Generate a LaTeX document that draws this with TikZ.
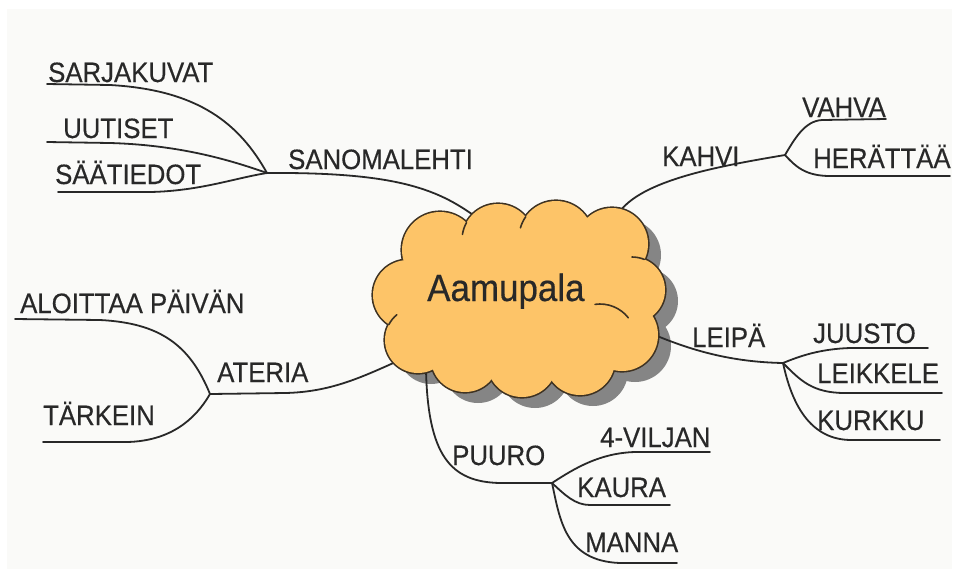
\documentclass[tikz,border=0pt]{standalone}
\usepackage{fontspec}
\setmainfont{Liberation Sans}[FakeStretch=0.92, FakeBold=0.4]

\pgfdeclarelayer{paper}
\pgfdeclarelayer{wires}
\pgfsetlayers{paper,wires,main}

\definecolor{cloudfill}{RGB}{253,196,104}
\definecolor{cloudline}{RGB}{62,50,34}
\definecolor{inkgray}{RGB}{40,40,40}
\definecolor{paperbg}{RGB}{250,250,248}

% puffs of the cloud: x/y/radius
\newcommand{\puffs}{440/250/38, 498/240/36, 556/238/37, 612/244/36, 632/290/33,
  622/335/36, 580/360/35, 522/362/35, 465/358/34, 418/340/33, 408/295/35}

\tikzset{
  word/.style={anchor=base west, inner sep=0pt, text=inkgray, font=\fontsize{28}{32}\selectfont},
  branch/.style={draw=inkgray, line width=1.8pt, line cap=round},
  stub/.style={draw=cloudline, line width=1.6pt, line cap=round},
}

\begin{document}
\begin{tikzpicture}[x=1pt, y=-1pt]
    \useasboundingbox (0,0) rectangle (957,574);
    \begin{pgfonlayer}{paper}
        \fill[paperbg] (7,9) rectangle (952,569);
        % shadow of the cloud
        \foreach \x/\y/\r in \puffs
            \fill[black!48] (\x+13,\y+11) circle[radius=\r];
        \fill[black!48] (438,266) rectangle (628,371);
    \end{pgfonlayer}

    % The cloud in the middle
    \foreach \x/\y/\r in \puffs
        \draw[cloudline, line width=3.2pt] (\x,\y) circle[radius=\r];
    \foreach \x/\y/\r in \puffs
        \fill[cloudfill] (\x,\y) circle[radius=\r];
    \fill[cloudfill] (425,255) rectangle (615,360);
    % little folds between the puffs
    \draw[stub] (498,240) ++(209:36) arc[start angle=209, end angle=189, radius=36];
    \draw[stub] (556,238) ++(215:37) arc[start angle=215, end angle=196, radius=37];
    \draw[stub] (632,290) ++(292:33) arc[start angle=292, end angle=270, radius=33];
    \draw[stub] (418,340) ++(208:33) arc[start angle=208, end angle=230, radius=33];
    \draw[stub] (600,340) ++(262:36) arc[start angle=262, end angle=322, radius=36];

    \node[word, font=\fontsize{38}{42}\selectfont] (aamu) at (427,301) {Aamupala};

    % Where the branches leave the cloud
    \coordinate (cloudS) at (480,220);
    \coordinate (cloudK) at (618,214);
    \coordinate (cloudA) at (400,360);
    \coordinate (cloudL) at (650,333);
    \coordinate (cloudP) at (426,370);

    % Hubs where the branches split
    \coordinate (hubS) at (267,173);
    \coordinate (hubK) at (785,155);
    \coordinate (hubA) at (210,394);
    \coordinate (hubL) at (783,363);
    \coordinate (hubP) at (552,483);

    % Free ends of the underlines
    \coordinate (sarjU) at (47,84);
    \coordinate (uutU) at (47,142);
    \coordinate (saaU) at (58,192);
    \coordinate (vahU) at (886,119);
    \coordinate (herU) at (950,176);
    \coordinate (aloU) at (15,319);
    \coordinate (tarU) at (43,442);
    \coordinate (juuU) at (928,348);
    \coordinate (leiU) at (942,393);
    \coordinate (kurU) at (940,440);
    \coordinate (vilU) at (710,452);
    \coordinate (kauU) at (670,505);
    \coordinate (manU) at (677,563);

    % Labels
    \node[word] (sanoma) at (288,169) {SANOMALEHTI};
    \node[word] (sarja) at (48,82) {SARJAKUVAT};
    \node[word] (uutiset) at (63,138) {UUTISET};
    \node[word] (saa) at (55,184) {SÄÄTIEDOT};
    \node[word] (kahvi) at (662,166) {KAHVI};
    \node[word] (vahva) at (802,117) {VAHVA};
    \node[word] (heratt) at (813,168) {HERÄTTÄÄ};
    \node[word] (ateria) at (217,382) {ATERIA};
    \node[word] (aloitt) at (20,313) {ALOITTAA PÄIVÄN};
    \node[word] (tark) at (43,425) {TÄRKEIN};
    \node[word] (leipa) at (692,347) {LEIPÄ};
    \node[word] (juusto) at (813,343) {JUUSTO};
    \node[word] (leikk) at (817,383) {LEIKKELE};
    \node[word] (kurkku) at (817,430) {KURKKU};
    \node[word] (puuro) at (452,465) {PUURO};
    \node[word] (vilj) at (600,447) {4-VILJAN};
    \node[word] (kaura) at (577,497) {KAURA};
    \node[word] (manna) at (585,552) {MANNA};

    \begin{pgfonlayer}{wires}
        % SANOMALEHTI
        \draw[branch] (cloudS) .. controls (440,190) and (400,172) .. (hubS);
        \draw[branch] (hubS) .. controls (240,125) and (200,90) .. (110,85) -- (sarjU);
        \draw[branch] (hubS) .. controls (230,160) and (180,145) .. (110,143) -- (uutU);
        \draw[branch] (hubS) .. controls (235,178) and (200,191) .. (150,192) -- (saaU);
        % KAHVI
        \draw[branch] (cloudK) .. controls (640,180) and (720,166) .. (hubK);
        \draw[branch] (hubK) .. controls (795,138) and (805,121) .. (822,120) -- (vahU);
        \draw[branch] (hubK) .. controls (795,166) and (805,176) .. (830,176) -- (herU);
        % ATERIA
        \draw[branch] (cloudA) .. controls (360,378) and (330,392) .. (285,393) -- (hubA);
        \draw[branch] (hubA) .. controls (190,345) and (160,323) .. (100,320) -- (aloU);
        \draw[branch] (hubA) .. controls (195,420) and (170,441) .. (127,442) -- (tarU);
        % LEIPÄ
        \draw[branch] (cloudL) .. controls (690,350) and (730,362) .. (hubL);
        \draw[branch] (hubL) .. controls (800,356) and (820,349) .. (850,348) -- (juuU);
        \draw[branch] (hubL) .. controls (800,380) and (812,393) .. (845,393) -- (leiU);
        \draw[branch] (hubL) .. controls (790,395) and (805,439) .. (850,440) -- (kurU);
        % PUURO
        \draw[branch] (cloudP) .. controls (428,455) and (450,482) .. (500,483) -- (hubP);
        \draw[branch] (hubP) .. controls (575,468) and (600,453) .. (635,452) -- (vilU);
        \draw[branch] (hubP) .. controls (565,495) and (575,505) .. (590,505) -- (kauU);
        \draw[branch] (hubP) .. controls (560,520) and (565,561) .. (620,563) -- (manU);
    \end{pgfonlayer}
\end{tikzpicture}
\end{document}
